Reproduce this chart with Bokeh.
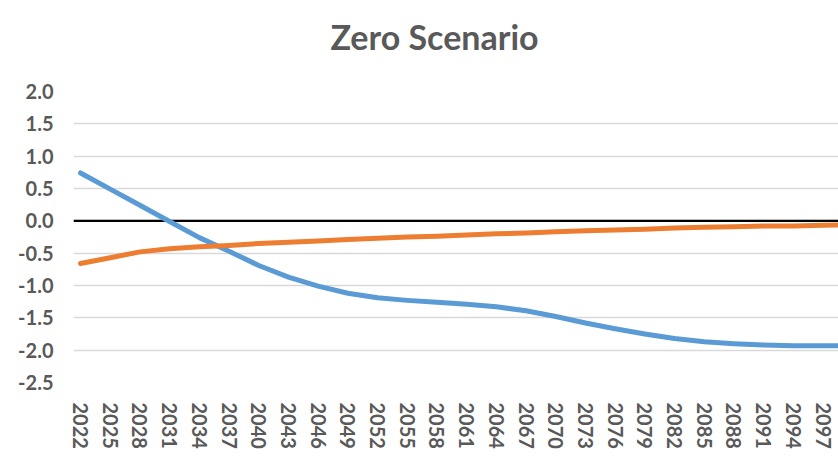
from bokeh.plotting import figure
from bokeh.models import FixedTicker, Span, Range1d, Title
from bokeh.embed import file_html
from bokeh.resources import INLINE

title_text = "Zero Scenario"

years = [2022, 2025, 2028, 2031, 2034, 2037, 2040, 2043, 2046, 2049, 2052, 2055, 2058,
         2061, 2064, 2067, 2070, 2073, 2076, 2079, 2082, 2085, 2088, 2091, 2094, 2097, 2100]

blue_values = [0.74, 0.49, 0.24, -0.01, -0.26, -0.47, -0.69, -0.87, -1.01, -1.12, -1.19, -1.23, -1.26,
               -1.29, -1.33, -1.39, -1.48, -1.58, -1.67, -1.75, -1.82, -1.87, -1.90, -1.92, -1.93, -1.93, -1.93]

orange_values = [-0.66, -0.57, -0.48, -0.43, -0.40, -0.38, -0.35, -0.33, -0.31, -0.29, -0.27, -0.25, -0.24,
                 -0.22, -0.20, -0.19, -0.17, -0.155, -0.14, -0.13, -0.11, -0.10, -0.09, -0.08, -0.08, -0.07, -0.06]

x_tick_years = [2022, 2025, 2028, 2031, 2034, 2037, 2040, 2043, 2046, 2049, 2052, 2055, 2058,
                2061, 2064, 2067, 2070, 2073, 2076, 2079, 2082, 2085, 2088, 2091, 2094, 2097]
x_tick_labels = [str(y) for y in x_tick_years]

y_ticks = [-2.5, -2.0, -1.5, -1.0, -0.5, 0.0, 0.5, 1.0, 1.5, 2.0]
y_tick_labels = ["-2.5", "-2.0", "-1.5", "-1.0", "-0.5", "0.0", "0.5", "1.0", "1.5", "2.0"]

TEXT = "#595959"
FONT = "Lato"

p = figure(width=838, height=468, output_backend="svg", toolbar_location=None,
           x_range=Range1d(2021.29, 2098.56), y_range=Range1d(-2.5, 2.0),
           min_border_left=73, min_border_right=0, min_border_top=91, min_border_bottom=86)
p.outline_line_color = None
p.background_fill_color = "white"
p.border_fill_color = "white"

p.title.text = title_text
p.title.align = "left"
p.title.offset = 257
p.title.standoff = 4
p.title.text_font = FONT
p.title.text_font_style = "bold"
p.title.text_font_size = "34px"
p.title.text_color = TEXT

# spacer between title and plot area
spacer = Title(text=" ", text_font_size="1px", standoff=30)
p.add_layout(spacer, "above")

# grid
p.xgrid.grid_line_color = None
p.ygrid.grid_line_color = "#d9d9d9"
p.ygrid.grid_line_width = 1.5
p.ygrid.ticker = FixedTicker(ticks=y_ticks)

# y axis
p.yaxis.ticker = FixedTicker(ticks=y_ticks)
p.yaxis.major_label_overrides = {t: l for t, l in zip(y_ticks, y_tick_labels)}
p.yaxis.axis_line_color = None
p.yaxis.major_tick_line_color = None
p.yaxis.minor_tick_line_color = None
p.yaxis.major_label_standoff = 14
p.yaxis.major_label_text_font = FONT
p.yaxis.major_label_text_font_style = "bold"
p.yaxis.major_label_text_font_size = "20px"
p.yaxis.major_label_text_color = TEXT

# x axis
p.xaxis.ticker = FixedTicker(ticks=x_tick_years)
p.xaxis.major_label_overrides = {t: l for t, l in zip(x_tick_years, x_tick_labels)}
p.xaxis.major_label_orientation = "vertical"
p.xaxis.axis_line_color = None
p.xaxis.major_tick_line_color = None
p.xaxis.minor_tick_line_color = None
p.xaxis.major_label_standoff = 14
p.xaxis.major_label_text_font = FONT
p.xaxis.major_label_text_font_style = "bold"
p.xaxis.major_label_text_font_size = "20px"
p.xaxis.major_label_text_color = TEXT

# zero line
zero = Span(location=0, dimension="width", line_color="black", line_width=2.2, level="underlay")
p.add_layout(zero)

p.line(years, blue_values, line_color="#5B9BD5", line_width=5, line_cap="round", line_join="round")
p.line(years, orange_values, line_color="#ED7D31", line_width=5, line_cap="round", line_join="round")

open("out.html", "w").write(file_html(p, INLINE))
